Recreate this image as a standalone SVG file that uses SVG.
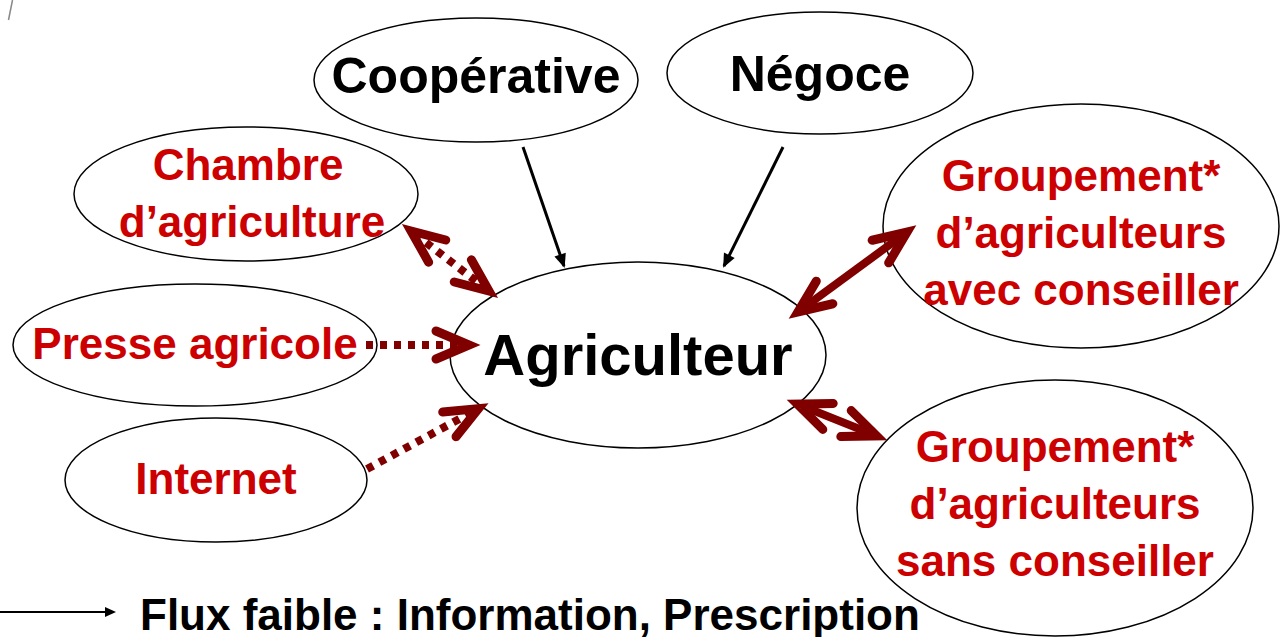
<svg xmlns="http://www.w3.org/2000/svg" width="1284" height="637" viewBox="0 0 1284 637">
<style>
  .node ellipse { fill: #ffffff; stroke: #000000; stroke-width: 1.5; }
  .lbl { font-family: "Liberation Sans", Arial, sans-serif; font-weight: bold; text-anchor: middle; }
  .blk { fill: #000000; }
  .red { fill: #cc0000; }
  .solid-black { stroke: #000000; stroke-width: 3; fill: none; }
  .dr-dot { stroke: #800000; stroke-width: 8; stroke-dasharray: 7 7; fill: none; }
  .dr-solid { stroke: #800000; stroke-width: 8; fill: none; }
</style>
<defs>
  <marker id="chev" markerUnits="userSpaceOnUse" markerWidth="60" markerHeight="60" refX="0" refY="0" orient="auto-start-reverse" overflow="visible" viewBox="-40 -30 60 60">
    <path d="M-28,-14 L5,0 L-28,14" fill="none" stroke="#800000" stroke-width="9" stroke-linecap="round" stroke-linejoin="miter" stroke-dasharray="none"/>
  </marker>
  <marker id="tri" markerUnits="userSpaceOnUse" markerWidth="20" markerHeight="20" refX="0" refY="0" orient="auto" overflow="visible" viewBox="-15 -10 20 20">
    <path d="M-12,-6 L2,0 L-12,6 Z" fill="#000000"/>
  </marker>
  <marker id="triS" markerUnits="userSpaceOnUse" markerWidth="20" markerHeight="20" refX="0" refY="0" orient="auto" overflow="visible" viewBox="-15 -10 20 20">
    <path d="M-9,-5 L2,0 L-9,5 Z" fill="#000000"/>
  </marker>
</defs>

<rect x="0" y="0" width="1284" height="637" fill="#ffffff"/>
<line x1="12.5" y1="0" x2="8.5" y2="20" stroke="#888888" stroke-width="1.5"/>

<g id="node-cooperative" class="node">
  <ellipse cx="476" cy="80" rx="162" ry="62"/>
  <text class="lbl blk" x="476" y="93" font-size="50">Coopérative</text>
</g>
<g id="node-negoce" class="node">
  <ellipse cx="820" cy="73" rx="153" ry="61"/>
  <text class="lbl blk" x="820" y="91" font-size="50">Négoce</text>
</g>
<g id="node-chambre" class="node">
  <ellipse cx="246" cy="194" rx="172" ry="67"/>
  <text class="lbl red" x="248" y="180" font-size="44">Chambre</text>
  <text class="lbl red" x="252" y="237" font-size="44">d’agriculture</text>
</g>
<g id="node-presse" class="node">
  <ellipse cx="195" cy="345" rx="182" ry="61"/>
  <text class="lbl red" x="195" y="359" font-size="44">Presse agricole</text>
</g>
<g id="node-internet" class="node">
  <ellipse cx="216" cy="480" rx="151" ry="62"/>
  <text class="lbl red" x="216" y="494" font-size="44">Internet</text>
</g>
<g id="node-agriculteur" class="node">
  <ellipse cx="638" cy="355" rx="188" ry="93"/>
  <text class="lbl blk" x="638" y="375" font-size="58">Agriculteur</text>
</g>
<g id="node-groupement-avec" class="node">
  <ellipse cx="1081" cy="226" rx="198" ry="122"/>
  <text class="lbl red" x="1081" y="191" font-size="44">Groupement*</text>
  <text class="lbl red" x="1081" y="248" font-size="44">d’agriculteurs</text>
  <text class="lbl red" x="1081" y="305" font-size="44">avec conseiller</text>
</g>
<g id="node-groupement-sans" class="node">
  <ellipse cx="1055" cy="508" rx="198" ry="128"/>
  <text class="lbl red" x="1055" y="462" font-size="44">Groupement*</text>
  <text class="lbl red" x="1055" y="519" font-size="44">d’agriculteurs</text>
  <text class="lbl red" x="1055" y="576" font-size="44">sans conseiller</text>
</g>

<g id="connectors">
  <line class="solid-black" x1="523" y1="147" x2="564" y2="266" marker-end="url(#tri)"/>
  <line class="solid-black" x1="783" y1="147" x2="724" y2="266" marker-end="url(#tri)"/>
  <line class="dr-dot" x1="415" y1="234" x2="485" y2="288" marker-start="url(#chev)" marker-end="url(#chev)"/>
  <line class="dr-dot" x1="366" y1="345" x2="464" y2="345" marker-end="url(#chev)"/>
  <line class="dr-dot" x1="367" y1="469" x2="474" y2="411" marker-end="url(#chev)"/>
  <line class="dr-solid" x1="802" y1="309" x2="903" y2="235" marker-start="url(#chev)" marker-end="url(#chev)"/>
  <line class="dr-solid" x1="802" y1="406" x2="872" y2="434" marker-start="url(#chev)" marker-end="url(#chev)"/>
</g>

<g id="legend">
  <line x1="0" y1="612" x2="114" y2="612" stroke="#000000" stroke-width="2" marker-end="url(#triS)"/>
  <text class="lbl blk" x="140" y="630" font-size="44" style="text-anchor:start">Flux faible : Information, Prescription</text>
</g>
</svg>
